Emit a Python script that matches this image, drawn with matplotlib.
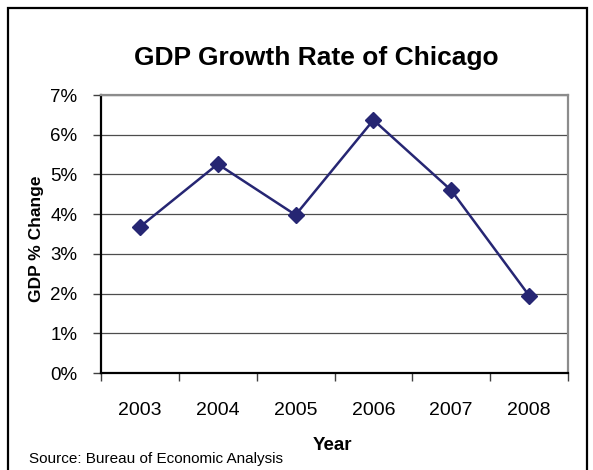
import matplotlib
matplotlib.use("Agg")
import matplotlib.pyplot as plt
from matplotlib.patches import Rectangle
from matplotlib.ticker import FuncFormatter

plt.rcParams['font.family'] = ['Liberation Sans', 'DejaVu Sans']

# data
years = ['2003', '2004', '2005', '2006', '2007', '2008']
growth = [3.68, 5.26, 3.98, 6.37, 4.6, 1.95]

W, H = 593, 470
fig = plt.figure(figsize=(W / 100, H / 100), dpi=100)
ax = fig.add_axes([101 / W, 1 - 373 / H, 467 / W, 278 / H])

x = range(len(years))
ax.plot(x, growth, color='#262673', lw=1.8, marker='D', ms=8.5,
        markerfacecolor='#262673', markeredgecolor='#262673')

ax.set_xlim(-0.5, len(years) - 0.5)
ax.set_ylim(0, 7)
ax.set_yticks(range(0, 8))
ax.yaxis.set_major_formatter(FuncFormatter(lambda v, p: f'{int(v)}%'))
# ticks sit between categories, labels in the middle
ax.set_xticks([i - 0.5 for i in range(len(years) + 1)])
ax.set_xticklabels([])
ax.set_xticks(list(x), minor=True)
ax.set_xticklabels(years, minor=True)
ax.tick_params(axis='x', which='minor', length=0, pad=21, labelsize=14)
ax.tick_params(axis='x', which='major', length=5.5, width=1, direction='out', color='#404040')
ax.tick_params(axis='y', length=6, width=1, direction='out', labelsize=13.5, pad=11,
               color='#404040')

ax.grid(axis='y', color='#4d4d4d', lw=0.9)
ax.set_axisbelow(True)
for s in ['top', 'right']:
    ax.spines[s].set_color('#8c8c8c')
    ax.spines[s].set_linewidth(1.6)
for s in ['left', 'bottom']:
    ax.spines[s].set_color('black')
    ax.spines[s].set_linewidth(1.6)

fig.text(36.5 / W, 1 - 239 / H, 'GDP % Change', rotation=90, ha='center', va='center',
         fontsize=12.5, fontweight='bold')
fig.text(332.5 / W, 1 - 450 / H, 'Year', ha='center', va='baseline',
         fontsize=13.5, fontweight='bold')
fig.text(316 / W, 1 - 65 / H, 'GDP Growth Rate of Chicago', ha='center', va='baseline',
         fontsize=19, fontweight='bold')
fig.text(29 / W, 1 - 463 / H, 'Source: Bureau of Economic Analysis', ha='left',
         va='baseline', fontsize=11)

frame = Rectangle((8 / W, -0.05), (587 - 8) / W, 1 - 8 / H + 0.05,
                  transform=fig.transFigure, fill=False, edgecolor='black', lw=1.6)
fig.patches.append(frame)

fig.savefig('out.png', dpi=100)
